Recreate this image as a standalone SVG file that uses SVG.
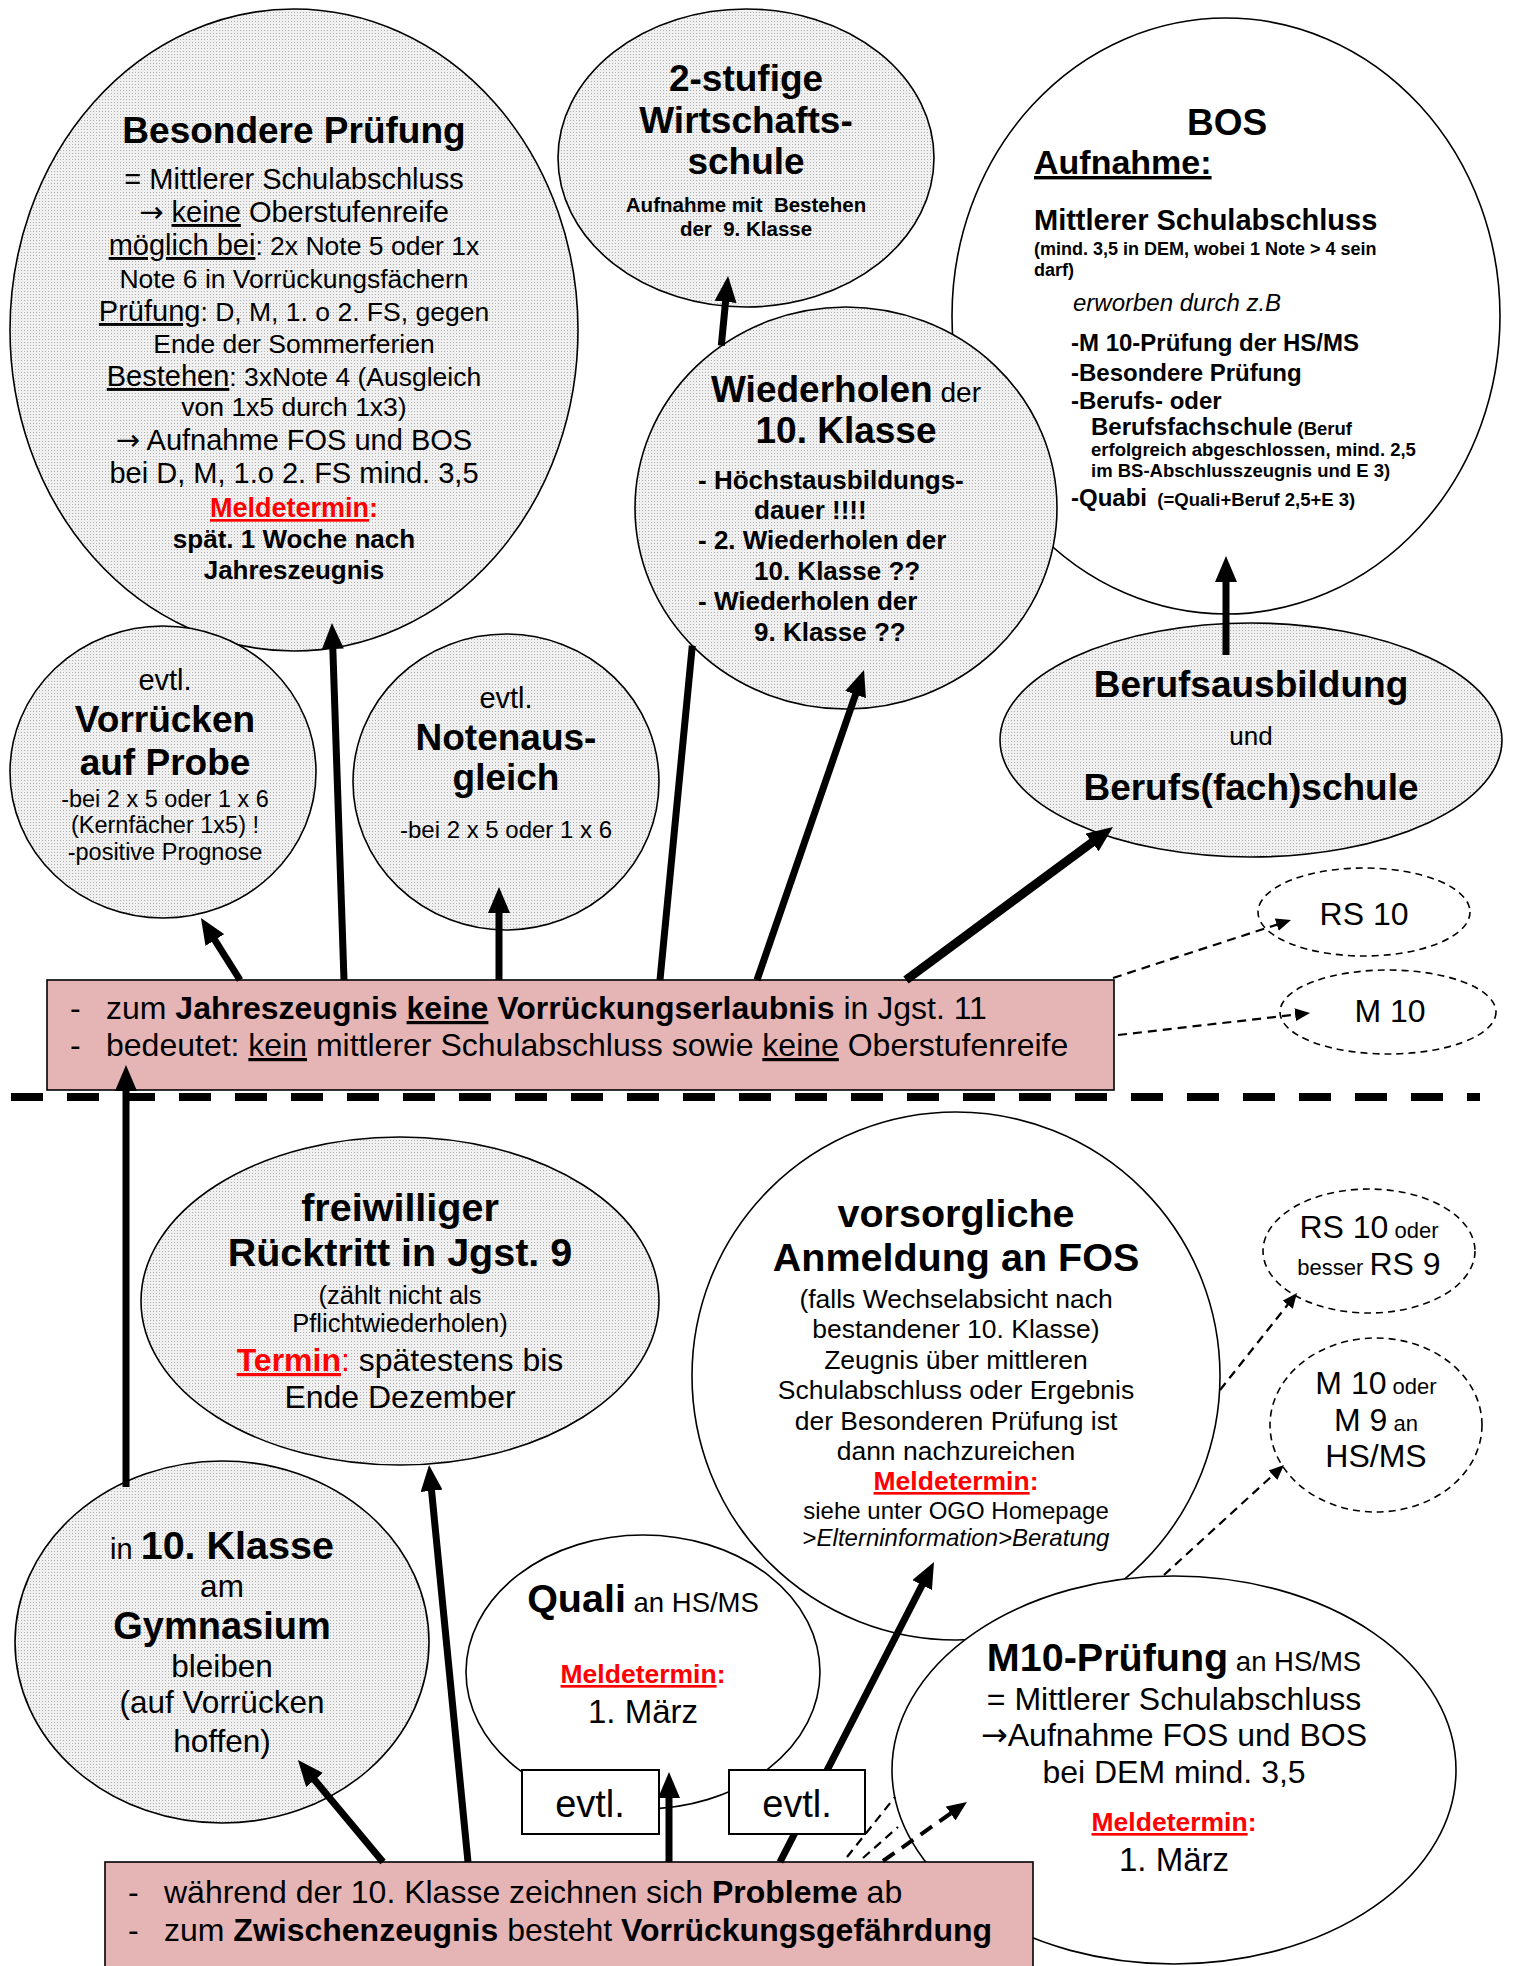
<svg xmlns="http://www.w3.org/2000/svg" width="1514" height="1966" viewBox="0 0 1514 1966">
<style>
.t{font-family:'Liberation Sans',Arial,sans-serif;fill:#000}
.c{text-anchor:middle}
.b{font-weight:bold}
.u{text-decoration:underline}
.r{fill:#f00}
.i{font-style:italic}
.ar{font-family:'DejaVu Sans',sans-serif}
.pat{fill:url(#dots);stroke:#000;stroke-width:1.6}
.wht{fill:#fff;stroke:#000;stroke-width:1.6}
.dsh{fill:none;stroke:#000;stroke-width:1.6;stroke-dasharray:7 5}
.box{fill:#e5b5b5;stroke:#000;stroke-width:1.6}
.evt{fill:#fff;stroke:#000;stroke-width:2}
.arr{fill:none;stroke:#000;stroke-width:7;marker-end:url(#ah)}
.seg{fill:none;stroke:#000;stroke-width:7}
.darr{fill:none;stroke:#000;stroke-width:2.2;stroke-dasharray:9 6;marker-end:url(#dah)}
.dln{fill:none;stroke:#000;stroke-width:2.2;stroke-dasharray:9 6}
.sep{stroke:#000;stroke-width:8;stroke-dasharray:32 24}
</style>
<defs>
<pattern id="dots" width="3" height="3" patternUnits="userSpaceOnUse"><rect width="3" height="3" fill="#f0f0f0"/><rect width="1" height="1" fill="#b0b0b0"/></pattern>
<marker id="ah" markerUnits="userSpaceOnUse" markerWidth="26" markerHeight="22" refX="10" refY="11" orient="auto"><path d="M0,0 L26,11 L0,22 z" fill="#000"/></marker>
<marker id="dah" markerUnits="userSpaceOnUse" markerWidth="15" markerHeight="13" refX="5" refY="6.5" orient="auto"><path d="M0,0 L15,6.5 L0,13 z" fill="#000"/></marker>
<marker id="dah2" markerUnits="userSpaceOnUse" markerWidth="20" markerHeight="17" refX="6" refY="8.5" orient="auto"><path d="M0,0 L20,8.5 L0,17 z" fill="#000"/></marker>
</defs>
<rect width="1514" height="1966" fill="#fff"/>

<g id="besondere">
<ellipse class="pat" cx="294" cy="330" rx="284" ry="321"/>
<text class="t c b" x="294" y="143" font-size="37">Besondere Prüfung</text>
<text class="t c" x="294" y="189" font-size="29">= Mittlerer Schulabschluss</text>
<text class="t c" x="294" y="222" font-size="29"><tspan class="ar">→</tspan> <tspan class="u">keine</tspan> Oberstufenreife</text>
<text class="t c" x="294" y="255" font-size="26.5"><tspan class="u" font-size="29">möglich bei</tspan>: 2x Note 5 oder 1x</text>
<text class="t c" x="294" y="288" font-size="26.5">Note 6 in Vorrückungsfächern</text>
<text class="t c" x="294" y="321" font-size="26.5"><tspan class="u" font-size="29">Prüfung</tspan>: D, M, 1. o 2. FS, gegen</text>
<text class="t c" x="294" y="353" font-size="26.5">Ende der Sommerferien</text>
<text class="t c" x="294" y="386" font-size="26.5"><tspan class="u" font-size="29">Bestehen</tspan>: 3xNote 4 (Ausgleich</text>
<text class="t c" x="294" y="416" font-size="26.5">von 1x5 durch 1x3)</text>
<text class="t c" x="294" y="450" font-size="29"><tspan class="ar">→</tspan> Aufnahme FOS und BOS</text>
<text class="t c" x="294" y="483" font-size="29">bei D, M, 1.o 2. FS mind. 3,5</text>
<text class="t c b" x="294" y="517" font-size="27"><tspan class="r u">Meldetermin</tspan><tspan class="r">:</tspan></text>
<text class="t c b" x="294" y="548" font-size="26">spät. 1 Woche nach</text>
<text class="t c b" x="294" y="579" font-size="26">Jahreszeugnis</text>
</g>

<g id="wirtschaftsschule">
<ellipse class="pat" cx="746" cy="158" rx="188" ry="149"/>
<text class="t c b" x="746" y="91" font-size="37">2-stufige</text>
<text class="t c b" x="746" y="133" font-size="37">Wirtschafts-</text>
<text class="t c b" x="746" y="174" font-size="37">schule</text>
<text class="t c b" x="746" y="212" font-size="20.5" xml:space="preserve">Aufnahme mit  Bestehen</text>
<text class="t c b" x="746" y="236" font-size="20.5" xml:space="preserve">der  9. Klasse</text>
</g>

<g id="bos">
<ellipse class="wht" cx="1226" cy="316" rx="274" ry="298"/>
<text class="t c b" x="1227" y="135" font-size="37">BOS</text>
<text class="t b u" x="1034" y="174" font-size="34">Aufnahme:</text>
<text class="t b" x="1034" y="230" font-size="29">Mittlerer Schulabschluss</text>
<text class="t b" x="1034" y="255" font-size="18">(mind. 3,5 in DEM, wobei 1 Note &gt; 4 sein</text>
<text class="t b" x="1034" y="276" font-size="18">darf)</text>
<text class="t i" x="1073" y="311" font-size="24">erworben durch z.B</text>
<text class="t b" x="1071" y="351" font-size="24">-M 10-Prüfung der HS/MS</text>
<text class="t b" x="1071" y="381" font-size="24">-Besondere Prüfung</text>
<text class="t b" x="1071" y="409" font-size="24">-Berufs- oder</text>
<text class="t b" x="1091" y="435" font-size="24">Berufsfachschule<tspan font-size="18.5"> (Beruf</tspan></text>
<text class="t b" x="1091" y="456" font-size="18.5">erfolgreich abgeschlossen, mind. 2,5</text>
<text class="t b" x="1091" y="477" font-size="18.5">im BS-Abschlusszeugnis und E 3)</text>
<text class="t b" x="1071" y="506" font-size="24" xml:space="preserve">-Quabi<tspan font-size="18.5">  (=Quali+Beruf 2,5+E 3)</tspan></text>
</g>

<g id="wiederholen">
<ellipse class="pat" cx="846" cy="508" rx="211" ry="201"/>
<text class="t c" x="846" y="402" font-size="28"><tspan class="b" font-size="37">Wiederholen</tspan> der</text>
<text class="t c b" x="846" y="443" font-size="37">10. Klasse</text>
<text class="t b" x="698" y="489" font-size="26">- Höchstausbildungs-</text>
<text class="t b" x="754" y="519" font-size="26">dauer !!!!</text>
<text class="t b" x="698" y="549" font-size="26">- 2. Wiederholen der</text>
<text class="t b" x="754" y="580" font-size="26">10. Klasse ??</text>
<text class="t b" x="698" y="610" font-size="26">- Wiederholen der</text>
<text class="t b" x="754" y="641" font-size="26">9. Klasse ??</text>
</g>

<g id="berufsausbildung">
<ellipse class="pat" cx="1251" cy="740" rx="251" ry="117"/>
<text class="t c b" x="1251" y="697" font-size="37">Berufsausbildung</text>
<text class="t c" x="1251" y="745" font-size="26">und</text>
<text class="t c b" x="1251" y="800" font-size="37">Berufs(fach)schule</text>
</g>

<g id="vorruecken">
<ellipse class="pat" cx="163" cy="772" rx="153" ry="146"/>
<text class="t c" x="165" y="690" font-size="29">evtl.</text>
<text class="t c b" x="165" y="732" font-size="37">Vorrücken</text>
<text class="t c b" x="165" y="775" font-size="37">auf Probe</text>
<text class="t c" x="165" y="807" font-size="23.5">-bei 2 x 5 oder 1 x 6</text>
<text class="t c" x="165" y="833" font-size="23.5">(Kernfächer 1x5) !</text>
<text class="t c" x="165" y="860" font-size="23.5">-positive Prognose</text>
</g>

<g id="notenausgleich">
<ellipse class="pat" cx="506" cy="782" rx="153" ry="148"/>
<text class="t c" x="506" y="708" font-size="29">evtl.</text>
<text class="t c b" x="506" y="750" font-size="37">Notenaus-</text>
<text class="t c b" x="506" y="790" font-size="37">gleich</text>
<text class="t c" x="506" y="838" font-size="24">-bei 2 x 5 oder 1 x 6</text>
</g>

<g id="rs10">
<ellipse class="dsh" cx="1364" cy="912" rx="106" ry="44"/>
<text class="t c" x="1364" y="925" font-size="32">RS 10</text>
</g>
<g id="m10">
<ellipse class="dsh" cx="1388" cy="1012" rx="108" ry="42"/>
<text class="t c" x="1390" y="1022" font-size="32">M 10</text>
</g>

<g id="box-jahreszeugnis">
<rect class="box" x="47" y="980" width="1067" height="110"/>
<text class="t" x="70" y="1019" font-size="32">-</text>
<text class="t" x="106" y="1019" font-size="32">zum <tspan class="b">Jahreszeugnis</tspan> <tspan class="b u">keine</tspan> <tspan class="b">Vorrückungserlaubnis</tspan> in Jgst. 11</text>
<text class="t" x="70" y="1056" font-size="32">-</text>
<text class="t" x="106" y="1056" font-size="32">bedeutet: <tspan class="u">kein</tspan> mittlerer Schulabschluss sowie <tspan class="u">keine</tspan> Oberstufenreife</text>
</g>

<line id="separator" class="sep" x1="11" y1="1097" x2="1480" y2="1097"/>

<g id="ruecktritt">
<ellipse class="pat" cx="400" cy="1301" rx="259" ry="164"/>
<text class="t c b" x="400" y="1221" font-size="39.5">freiwilliger</text>
<text class="t c b" x="400" y="1266" font-size="39.5">Rücktritt in Jgst. 9</text>
<text class="t c" x="400" y="1304" font-size="25.5">(zählt nicht als</text>
<text class="t c" x="400" y="1332" font-size="25.5">Pflichtwiederholen)</text>
<text class="t c" x="400" y="1371" font-size="32"><tspan class="b r u">Termin</tspan><tspan class="r">:</tspan> spätestens bis</text>
<text class="t c" x="400" y="1408" font-size="32">Ende Dezember</text>
</g>

<g id="klasse10">
<ellipse class="pat" cx="222" cy="1642" rx="207" ry="181"/>
<text class="t c" x="222" y="1559" font-size="29">in <tspan class="b" font-size="39.5">10. Klasse</tspan></text>
<text class="t c" x="222" y="1597" font-size="31.5">am</text>
<text class="t c b" x="222" y="1639" font-size="38">Gymnasium</text>
<text class="t c" x="222" y="1677" font-size="31.5">bleiben</text>
<text class="t c" x="222" y="1713" font-size="31.5">(auf Vorrücken</text>
<text class="t c" x="222" y="1752" font-size="31.5">hoffen)</text>
</g>

<g id="quali">
<ellipse class="wht" cx="643" cy="1672" rx="177" ry="137"/>
<text class="t c" x="643" y="1612" font-size="27.5"><tspan class="b" font-size="39.5">Quali</tspan> an HS/MS</text>
<text class="t c b" x="643" y="1683" font-size="26.5"><tspan class="r u">Meldetermin</tspan><tspan class="r">:</tspan></text>
<text class="t c" x="643" y="1723" font-size="33">1. März</text>
</g>

<g id="fos">
<ellipse class="wht" cx="956" cy="1376" rx="264" ry="264"/>
<text class="t c b" x="956" y="1227" font-size="39.5">vorsorgliche</text>
<text class="t c b" x="956" y="1271" font-size="39.5">Anmeldung an FOS</text>
<text class="t c" x="956" y="1308" font-size="26.5">(falls Wechselabsicht nach</text>
<text class="t c" x="956" y="1338" font-size="26.5">bestandener 10. Klasse)</text>
<text class="t c" x="956" y="1369" font-size="26.5">Zeugnis über mittleren</text>
<text class="t c" x="956" y="1399" font-size="26.5">Schulabschluss oder Ergebnis</text>
<text class="t c" x="956" y="1430" font-size="26.5">der Besonderen Prüfung ist</text>
<text class="t c" x="956" y="1460" font-size="26.5">dann nachzureichen</text>
<text class="t c b" x="956" y="1490" font-size="26.5"><tspan class="r u">Meldetermin</tspan><tspan class="r">:</tspan></text>
<text class="t c" x="956" y="1519" font-size="24">siehe unter OGO Homepage</text>
<text class="t c" x="956" y="1546" font-size="24">&gt;<tspan class="i">Elterninformation&gt;Beratung</tspan></text>
</g>

<g id="m10pruefung">
<ellipse class="wht" cx="1174" cy="1770" rx="282" ry="194"/>
<text class="t c" x="1174" y="1671" font-size="27.5"><tspan class="b" font-size="39.5">M10-Prüfung</tspan> an HS/MS</text>
<text class="t c" x="1174" y="1710" font-size="32">= Mittlerer Schulabschluss</text>
<text class="t c" x="1174" y="1746" font-size="32"><tspan class="ar">→</tspan>Aufnahme FOS und BOS</text>
<text class="t c" x="1174" y="1783" font-size="32">bei DEM mind. 3,5</text>
<text class="t c b" x="1174" y="1831" font-size="26.5"><tspan class="r u">Meldetermin</tspan><tspan class="r">:</tspan></text>
<text class="t c" x="1174" y="1871" font-size="33">1. März</text>
</g>

<g id="rs10oder">
<ellipse class="dsh" cx="1369" cy="1251" rx="106" ry="62"/>
<text class="t c" x="1369" y="1238" font-size="32">RS 10<tspan font-size="22"> oder</tspan></text>
<text class="t c" x="1369" y="1275" font-size="32"><tspan font-size="22">besser </tspan>RS 9</text>
</g>
<g id="m10oder">
<ellipse class="dsh" cx="1376" cy="1425" rx="106" ry="87"/>
<text class="t c" x="1376" y="1394" font-size="32">M 10<tspan font-size="22"> oder</tspan></text>
<text class="t c" x="1376" y="1431" font-size="32">M 9<tspan font-size="22"> an</tspan></text>
<text class="t c" x="1376" y="1467" font-size="32">HS/MS</text>
</g>

<g id="box-zwischenzeugnis">
<rect class="box" x="105" y="1862" width="928" height="110"/>
<text class="t" x="128" y="1903" font-size="32">-</text>
<text class="t" x="164" y="1903" font-size="32">während der 10. Klasse zeichnen sich <tspan class="b">Probleme</tspan> ab</text>
<text class="t" x="128" y="1941" font-size="32">-</text>
<text class="t" x="164" y="1941" font-size="32">zum <tspan class="b">Zwischenzeugnis</tspan> besteht <tspan class="b">Vorrückungsgefährdung</tspan></text>
</g>

<g id="connectors">
<line class="arr" x1="240" y1="980" x2="209.5" y2="931.6"/>
<line class="arr" x1="344" y1="980" x2="332.5" y2="639"/>
<line class="arr" x1="499" y1="980" x2="499" y2="903"/>
<line class="seg" x1="660" y1="980" x2="692.3" y2="645.6"/>
<line class="arr" x1="721.3" y1="345.7" x2="726.5" y2="291.9"/>
<line class="arr" x1="757" y1="980" x2="858.8" y2="685.1"/>
<line class="arr" x1="906" y1="980" x2="1100.1" y2="836.5" style="stroke-width:9"/>
<line class="arr" x1="1226" y1="655" x2="1226" y2="572"/>
<line class="darr" x1="1113" y1="978" x2="1281.5" y2="923.1"/>
<line class="darr" x1="1118" y1="1035" x2="1300.1" y2="1014.1"/>
<line class="arr" x1="126" y1="1487" x2="126" y2="1081"/>
<line class="arr" x1="383" y1="1862" x2="308.2" y2="1772.3"/>
<line class="arr" x1="468" y1="1862" x2="430.6" y2="1480.9"/>
<line class="arr" x1="669" y1="1862" x2="669" y2="1788"/>
<line class="arr" x1="780" y1="1862" x2="926.7" y2="1576.2"/>
<line class="darr" x1="1220" y1="1390" x2="1290.8" y2="1300.8"/>
<line class="darr" x1="1164" y1="1575" x2="1276.6" y2="1471.8"/>
<line class="dln" x1="847" y1="1857" x2="895" y2="1797"/>
<line class="dln" x1="863" y1="1858" x2="898" y2="1827"/>
<line x1="883" y1="1861" x2="955.5" y2="1810" style="fill:none;stroke:#000;stroke-width:4;stroke-dasharray:14 9;marker-end:url(#dah2)"/>
</g>

<g id="evtl1">
<rect class="evt" x="522" y="1770" width="137" height="64"/>
<text class="t c" x="590" y="1817" font-size="38">evtl.</text>
</g>
<g id="evtl2">
<rect class="evt" x="729" y="1770" width="136" height="64"/>
<text class="t c" x="797" y="1817" font-size="38">evtl.</text>
</g>
</svg>
